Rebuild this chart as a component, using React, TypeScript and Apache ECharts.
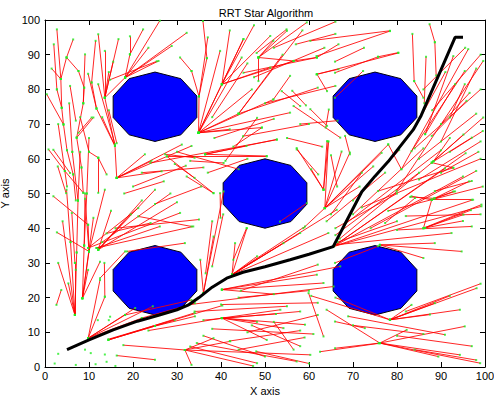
import React, { useEffect, useRef } from "react";
import * as echarts from "echarts";

const xTicks = [0, 10, 20, 30, 40, 50, 60, 70, 80, 90, 100];
const yTicks = [0, 10, 20, 30, 40, 50, 60, 70, 80, 90, 100];

// obstacles: [centerX, centerY, radius]
const obstacles = [
  [25, 75, 10],
  [75, 75, 10],
  [50, 50, 10],
  [25, 25, 10],
  [75, 25, 10],
];

// final RRT* path
const pathPoints = [
  [5, 5], [10, 7.8], [15.5, 10.7], [21, 13.2], [26, 15], [30, 16.5], [32.5, 17.8],
  [35, 20], [38, 23], [41.3, 25.6], [45, 27.3], [50, 28.9], [55.7, 30.9], [60, 32.5],
  [65.5, 34.7], [68.5, 42], [72, 50.5], [75, 55], [78, 59.2], [83.7, 68.4], [85.5, 72.5],
  [93.2, 95], [95, 95],
];

// tree edges [x1, y1, x2, y2]
const edgesTopLeft = [
  [2.7, 97.3, 3.6, 83.0], [3.6, 83.0, 3.8, 74.7], [3.8, 74.7, 4.2, 69.9], [0.4, 78.6, 4.2, 69.9],
  [4.2, 69.9, 5.0, 62.5], [5.0, 62.5, 6.4, 55.5], [6.4, 55.5, 7.0, 48.0], [6.4, 94.4, 4.9, 89.2],
  [4.9, 89.2, 3.6, 83.0], [4.9, 89.2, 7.6, 85.3], [7.6, 85.3, 8.9, 80.5], [8.9, 80.5, 8.7, 76.0],
  [9.1, 90.1, 8.7, 76.0], [8.7, 76.0, 7.2, 66.1], [12.1, 95.9, 13.6, 77.6], [13.6, 91.1, 13.6, 77.6],
  [16.7, 94.5, 13.6, 77.6], [18.2, 83.4, 13.6, 77.6], [19.3, 90.1, 18.2, 83.4], [22.3, 97.3, 19.3, 90.1],
  [26.1, 99.8, 18.2, 83.4], [19.3, 95.3, 19.3, 90.1], [23.5, 92.0, 18.2, 83.4], [28.8, 92.5, 18.2, 83.4],
  [25.8, 88.2, 18.2, 83.4], [32.2, 96.3, 18.2, 83.4], [13.6, 77.6, 15.9, 63.7], [11.7, 74.5, 15.9, 63.7],
  [9.8, 84.5, 11.7, 74.5], [11.0, 71.9, 7.2, 66.1], [7.2, 66.1, 8.3, 57.5], [0.8, 62.7, 4.5, 56.5],
  [4.5, 56.5, 8.7, 50.2], [8.3, 57.5, 8.7, 50.2], [12.1, 60.3, 12.1, 50.2], [15.9, 63.7, 16.3, 54.5],
  [16.3, 54.5, 22.7, 61.3], [16.3, 54.5, 24.2, 59.4], [16.3, 54.5, 33.3, 63.7], [16.3, 54.5, 31.1, 64.1],
  [16.3, 54.5, 26.5, 56.4], [30.7, 89.2, 33.3, 85.3], [33.3, 85.3, 35.0, 78.0], [27.3, 61.3, 34.0, 60.3],
  [29.5, 58.5, 34.0, 54.5], [1.9, 62.6, 5.7, 55.9], [2.9, 57.8, 4.8, 50.1], [27.7, 60.7, 38.3, 50.1],
  [27.7, 60.7, 50.4, 60.7], [23.9, 58.8, 52.7, 65.5], [32.2, 54.9, 38.3, 50.1], [5.7, 81.0, 7.0, 71.0],
  [14.8, 82.8, 25.4, 88.1], [12.1, 81.5, 15.9, 64.2], [10.6, 71.9, 7.6, 67.5],
  [3.0, 70.0, 5.0, 52.0], [8.0, 62.0, 7.5, 48.0], [10.0, 66.0, 9.5, 50.0], [5.5, 76.0, 6.2, 62.0],
  [6.2, 62.0, 7.5, 48.0], [1.5, 86.0, 3.6, 83.0], [11.5, 94.0, 10.6, 82.0], [10.6, 82.0, 11.7, 74.5],
  [14.5, 85.0, 13.6, 77.6], [15.5, 88.0, 13.6, 77.6], [2.0, 93.0, 2.7, 80.0], [2.7, 80.0, 3.8, 74.7],
  [13.0, 72.0, 15.9, 63.7], [14.5, 74.0, 16.3, 64.5], [10.0, 62.0, 12.1, 60.3], [12.1, 60.3, 14.0, 55.5],
  [8.0, 72.0, 10.0, 62.0],
];

const edgesBottomLeft = [
  [4.9, 51.1, 5.8, 36.0], [5.8, 36.0, 6.8, 15.0], [6.1, 44.4, 6.8, 30.0], [6.8, 30.0, 6.8, 15.0],
  [5.3, 24.1, 6.8, 15.0], [7.2, 33.0, 6.8, 15.0], [9.1, 50.0, 8.9, 35.0], [8.9, 35.0, 8.5, 19.8],
  [10.0, 33.3, 8.5, 19.8], [12.5, 30.3, 8.5, 19.8], [9.8, 28.0, 8.5, 19.8], [13.6, 51.1, 10.0, 33.3],
  [9.1, 48.5, 10.0, 33.3], [2.7, 38.8, 10.0, 33.3], [1.9, 49.2, 9.8, 41.0], [9.8, 41.0, 10.0, 33.3],
  [2.6, 17.9, 3.7, 22.2], [13.5, 30.0, 13.6, 20.3], [12.5, 25.1, 9.8, 8.3], [13.6, 20.2, 9.8, 8.3],
  [12.5, 25.6, 18.2, 33.3], [18.6, 33.3, 31.8, 35.7], [9.8, 34.3, 21.2, 45.8], [9.8, 34.3, 30.7, 44.4],
  [11.7, 34.3, 26.1, 40.5], [11.7, 34.3, 33.7, 40.5], [12.1, 33.8, 25.0, 51.1], [12.1, 33.8, 19.5, 44.0],
  [21.2, 43.4, 33.3, 40.5], [9.8, 8.3, 18.2, 15.0], [9.8, 8.3, 20.5, 17.0], [9.8, 8.3, 24.5, 17.5],
  [9.8, 8.3, 22.0, 14.1], [14.4, 8.0, 40.3, 17.7], [14.4, 7.8, 29.5, 13.5], [14.4, 7.8, 34.0, 15.6],
  [14.4, 7.8, 25.0, 11.8], [16.3, 3.3, 25.0, 2.1], [17.8, 6.3, 31.8, 4.9], [18.2, 15.0, 33.3, 19.3],
  [22.0, 14.1, 34.1, 18.4], [25.0, 11.8, 34.1, 14.6], [23.5, 10.5, 40.2, 14.1],
  [4.0, 42.0, 6.8, 15.0], [3.0, 30.0, 6.8, 15.0], [11.0, 43.0, 8.5, 19.8], [15.0, 45.0, 12.1, 33.8],
  [7.5, 48.0, 7.2, 33.0], [9.5, 50.0, 8.9, 35.0],
  [12.1, 33.8, 22.0, 48.0], [12.1, 33.8, 30.0, 47.5], [13.0, 36.0, 28.5, 50.0], [16.0, 40.0, 35.0, 42.5],
  [14.0, 38.5, 24.0, 41.5], [20.0, 52.0, 32.0, 58.0], [22.0, 56.0, 36.0, 57.5], [18.0, 50.0, 27.0, 53.5],
  [25.0, 47.0, 35.5, 52.0],
];

const edgesTopMiddle = [
  [35.9, 99.7, 36.8, 89.0], [36.8, 89.0, 35.0, 78.0], [35.0, 78.0, 34.9, 67.5], [34.9, 67.5, 39.8, 91.1],
  [34.9, 67.5, 45.1, 94.5], [34.9, 67.5, 44.7, 89.2], [34.9, 67.5, 51.9, 77.1], [34.9, 67.5, 55.7, 73.3],
  [34.9, 67.5, 49.3, 69.0], [34.9, 67.5, 42.0, 68.5], [34.9, 67.5, 40.2, 81.5], [34.9, 67.5, 47.0, 80.0],
  [40.2, 81.5, 45.1, 94.5], [40.2, 81.5, 51.2, 95.4], [40.2, 81.5, 56.5, 88.2], [40.2, 81.5, 51.2, 86.3],
  [48.5, 89.2, 51.9, 94.0], [48.5, 89.2, 55.0, 96.9], [48.5, 89.2, 56.5, 88.2], [56.5, 88.2, 61.8, 89.2],
  [61.8, 89.2, 66.7, 93.0], [45.1, 84.8, 61.8, 89.2], [48.5, 89.2, 48.5, 82.4], [61.8, 84.4, 66.7, 85.8],
  [59.5, 99.3, 48.5, 89.2], [54.9, 97.3, 48.1, 90.5], [56.2, 79.6, 59.3, 75.4], [56.5, 75.2, 67.1, 66.1],
  [61.8, 84.4, 64.1, 79.5], [64.5, 74.2, 63.8, 69.0], [36.4, 61.3, 45.8, 63.7], [36.4, 61.3, 52.7, 65.6],
  [36.4, 61.3, 50.4, 60.8], [33.0, 59.4, 40.6, 58.8], [41.0, 59.4, 48.2, 71.8], [42.8, 63.5, 49.3, 69.0],
  [57.2, 62.7, 62.1, 55.5], [64.1, 65.1, 63.3, 51.1], [65.0, 61.0, 66.4, 52.0], [60.3, 94.0, 78.4, 96.9],
  [61.7, 89.6, 78.4, 96.8], [61.7, 84.3, 80.3, 90.5], [51.9, 77.1, 55.7, 83.9], [53.8, 79.5, 58.0, 75.2],
  [60.3, 74.3, 64.1, 69.5],
  [37.0, 95.0, 35.0, 78.0], [42.0, 97.0, 40.2, 81.5], [40.2, 81.5, 47.5, 98.5], [44.0, 73.0, 58.5, 97.0],
  [44.0, 73.0, 54.0, 90.0], [34.9, 67.5, 44.0, 73.0], [44.0, 73.0, 62.0, 80.5], [50.0, 76.0, 66.0, 81.0],
  [47.5, 83.5, 63.5, 92.0], [52.0, 92.0, 66.0, 99.5], [57.0, 93.0, 66.0, 96.0], [38.0, 72.0, 46.0, 87.5],
  [38.5, 66.0, 52.0, 71.5], [45.0, 66.5, 60.0, 70.0], [55.0, 66.0, 63.0, 63.5], [58.0, 70.0, 66.5, 71.0],
  [30.0, 62.0, 44.0, 57.0], [37.0, 56.0, 46.0, 60.0],
];

const edgesCenter = [
  [39.8, 50.1, 39.9, 43.0], [45.8, 40.0, 42.8, 30.9], [58.7, 40.0, 63.6, 45.8], [63.6, 45.8, 64.4, 65.0],
  [63.6, 45.8, 67.4, 62.1], [63.6, 45.8, 69.3, 61.8], [63.6, 45.8, 78.0, 64.1], [63.6, 45.8, 76.5, 61.7],
  [63.6, 45.8, 74.6, 57.8], [63.3, 51.1, 57.2, 63.1], [63.3, 51.1, 64.4, 65.0], [63.3, 51.1, 60.5, 57.0],
  [63.6, 45.8, 71.5, 52.0], [53.4, 41.9, 59.5, 47.2],
];

const edgesBottomMiddle = [
  [36.0, 21.3, 40.6, 50.6], [36.0, 21.3, 38.3, 37.6], [35.3, 30.9, 36.0, 21.3], [42.5, 26.6, 45.9, 40.0],
  [42.5, 26.6, 43.2, 35.7], [42.5, 26.6, 48.2, 31.9], [42.5, 26.6, 54.2, 35.7], [42.5, 26.6, 58.0, 38.6],
  [42.5, 26.6, 59.1, 40.5], [42.5, 26.6, 66.3, 45.3], [42.5, 26.6, 64.4, 38.6], [40.2, 22.3, 61.8, 26.6],
  [40.2, 22.3, 67.1, 29.0], [40.2, 22.3, 63.3, 24.2], [40.2, 22.3, 52.0, 21.0], [33.0, 18.0, 65.6, 23.2],
  [40.2, 14.1, 53.5, 16.5], [40.2, 14.1, 59.1, 12.2], [40.2, 14.1, 54.2, 11.2], [40.2, 14.1, 50.4, 7.8],
  [40.2, 14.1, 48.2, 13.0], [40.2, 14.1, 52.5, 15.3], [59.9, 21.3, 63.3, 8.8], [33.0, 5.9, 48.2, 1.1],
  [34.5, 6.9, 57.2, 1.6], [31.8, 4.9, 38.3, 8.3], [31.8, 4.9, 47.3, 0.3], [31.8, 4.9, 33.3, 0.6],
  [31.8, 4.9, 42.1, 7.4], [31.8, 4.9, 60.3, 3.5], [42.0, 7.5, 58.0, 10.5], [44.0, 5.0, 59.0, 8.5],
  [47.0, 12.0, 58.0, 6.0],
  [34.0, 16.0, 55.0, 17.5], [36.0, 13.5, 58.0, 16.0], [38.0, 11.0, 61.0, 9.5], [40.0, 18.0, 62.0, 18.5],
  [44.0, 20.0, 60.0, 22.0], [46.0, 10.0, 62.0, 15.0], [48.0, 4.5, 60.0, 1.0], [36.0, 9.0, 50.0, 3.0],
  [52.0, 13.0, 56.5, 5.0], [44.5, 22.0, 62.0, 29.5], [38.0, 29.0, 40.5, 44.0], [36.5, 27.0, 38.0, 42.0],
];

const edgesRight = [
  [65.5, 34.7, 95.0, 54.9], [65.5, 34.7, 99.2, 46.3], [65.5, 34.7, 97.3, 48.2], [65.5, 34.7, 90.9, 57.2],
  [65.5, 34.7, 95.6, 61.6], [67.0, 37.0, 88.3, 59.3], [88.3, 59.3, 95.1, 67.0], [88.3, 59.3, 92.0, 66.0],
  [88.5, 48.6, 93.2, 50.6], [88.5, 48.6, 96.4, 53.5], [83.0, 49.0, 88.5, 48.6], [86.4, 40.1, 95.0, 42.1],
  [86.4, 40.1, 96.8, 45.2], [83.3, 49.2, 87.9, 48.2], [87.9, 48.2, 92.8, 50.6], [87.9, 48.2, 97.0, 48.2],
  [87.9, 48.2, 86.0, 40.0], [86.0, 40.0, 95.1, 43.9], [86.0, 40.0, 99.2, 46.8], [77.3, 41.5, 84.1, 48.7],
  [65.9, 35.2, 92.4, 38.6], [76.1, 35.2, 88.6, 35.7], [76.1, 35.2, 94.7, 33.3], [76.1, 35.2, 86.0, 31.4],
  [65.9, 30.0, 75.7, 34.8], [66.5, 36.0, 80.0, 42.0], [64.0, 42.0, 77.3, 56.0], [65.0, 44.0, 72.0, 56.0],
  [66.0, 40.0, 80.0, 50.0],
  [66.0, 38.0, 85.0, 56.0], [68.0, 41.0, 90.0, 62.5], [70.0, 44.0, 86.0, 63.0], [72.0, 46.0, 99.0, 60.0],
  [74.0, 40.0, 98.0, 56.5], [78.0, 45.0, 99.5, 52.0], [80.0, 39.5, 97.0, 40.5], [82.0, 43.5, 99.0, 44.0],
  [85.0, 54.0, 99.0, 65.0], [90.0, 56.0, 98.5, 62.0], [70.0, 48.0, 80.5, 62.5],
];

const edgesTopRight = [
  [65.9, 84.8, 75.7, 89.4], [75.7, 89.4, 80.3, 90.6], [65.9, 88.0, 72.5, 92.0], [65.9, 77.6, 72.3, 85.3],
  [87.4, 98.8, 88.6, 93.6], [88.6, 93.6, 88.9, 84.0], [83.5, 96.0, 83.9, 82.4], [83.9, 82.4, 86.0, 77.6],
  [86.6, 89.4, 86.2, 76.0], [79.9, 50.7, 99.6, 88.2], [81.0, 57.0, 96.2, 91.6], [83.3, 62.2, 95.4, 85.3],
  [86.4, 67.1, 92.8, 89.6], [86.4, 67.1, 93.2, 81.5], [87.9, 66.6, 95.8, 76.7], [87.9, 58.9, 99.6, 71.9],
  [87.9, 58.9, 97.0, 66.1], [87.9, 58.9, 92.8, 57.4], [75.7, 50.7, 92.8, 57.4], [88.6, 50.7, 97.0, 53.6],
  [68.2, 66.6, 69.3, 61.3], [95.4, 81.5, 92.0, 71.9], [78.0, 64.2, 81.0, 57.0], [84.0, 63.0, 99.0, 80.0],
  [85.0, 60.0, 98.0, 73.0], [90.0, 70.0, 96.5, 79.0], [84.5, 70.0, 91.0, 85.0],
  [88.0, 74.0, 99.0, 90.0], [86.0, 80.0, 95.5, 92.0], [90.0, 65.0, 98.0, 86.0], [92.0, 62.0, 99.5, 68.0],
];

const edgesBottomRight = [
  [78.4, 13.6, 98.1, 22.7], [78.4, 13.6, 88.6, 18.4], [78.4, 13.6, 94.3, 16.5], [78.4, 13.6, 87.5, 15.1],
  [78.4, 13.6, 83.3, 17.9], [78.4, 13.6, 92.0, 20.5], [68.9, 14.6, 90.9, 9.3], [65.9, 13.1, 72.7, 11.2],
  [76.1, 6.9, 94.3, 3.5], [76.1, 6.9, 98.9, 1.1], [76.1, 6.9, 89.4, 3.0], [76.1, 6.9, 82.2, 10.7],
  [76.1, 6.9, 95.4, 11.7], [65.9, 5.4, 76.1, 6.9], [60.5, 20.5, 78.4, 13.6], [62.5, 4.4, 75.8, 6.8],
  [66.0, 20.0, 78.4, 13.6], [64.0, 16.5, 76.1, 6.9], [80.0, 9.0, 97.0, 6.0], [82.0, 16.0, 99.0, 24.0],
  [84.0, 5.0, 98.0, 2.0], [70.0, 12.0, 86.0, 9.5],
];

// isolated sample nodes
const looseNodes = [
  [2.2, 1.0], [3.0, 3.8], [9.1, 5.0], [10.4, 4.0], [13.6, 3.6], [11.5, 0.8], [14, 1.5],
  [7, 0.6], [16, 0.3], [14.5, 13.5], [14.8, 14.5], [7.0, 28], [12.0, 13.5],
];

const allEdges = [
  ...edgesTopLeft, ...edgesBottomLeft, ...edgesTopMiddle, ...edgesCenter,
  ...edgesBottomMiddle, ...edgesRight, ...edgesTopRight, ...edgesBottomRight,
];

const FONT = "'Liberation Sans', Arial, sans-serif";

export default function App() {
  const ref = useRef<HTMLDivElement>(null);
  useEffect(() => {
    if (!ref.current) return;
    document.body.style.margin = "0";
    const chart = echarts.init(ref.current, null, { renderer: "svg" });

    const nodes: number[][] = [];
    allEdges.forEach((e) => {
      nodes.push([e[2], e[3]]);
      nodes.push([e[0], e[1]]);
    });
    looseNodes.forEach((n) => nodes.push(n));

    const axisCommon = {
      type: "value",
      min: 0,
      max: 100,
      interval: 10,
      splitLine: { show: false },
      axisLine: { show: true, onZero: false, lineStyle: { color: "#000", width: 1 } },
      axisTick: { show: true, inside: true, length: 5, lineStyle: { color: "#000" } },
    };

    chart.setOption({
      animation: false,
      backgroundColor: "#fff",
      title: {
        text: "RRT Star Algorithm",
        left: 261,
        top: 2,
        textAlign: "center",
        textStyle: { fontSize: 11, fontWeight: "normal", color: "#000", fontFamily: FONT },
      },
      grid: {
        left: 45, top: 20, width: 440, height: 347,
        containLabel: false, outerBoundsMode: "none",
      },
      xAxis: [
        {
          ...axisCommon,
          position: "bottom",
          name: "X axis",
          nameLocation: "middle",
          nameGap: 18,
          nameTextStyle: { fontSize: 11, color: "#000", fontFamily: FONT },
          axisLabel: {
            fontSize: 11, color: "#000", fontFamily: FONT, margin: 3,
            formatter: (v: number) => (xTicks.includes(v) ? String(v) : ""),
          },
        },
        { ...axisCommon, position: "top", axisLabel: { show: false } },
      ],
      yAxis: [
        {
          ...axisCommon,
          position: "left",
          name: "Y axis",
          nameLocation: "middle",
          nameGap: 28,
          nameRotate: 90,
          nameTextStyle: { fontSize: 11, color: "#000", fontFamily: FONT },
          axisLabel: {
            fontSize: 11, color: "#000", fontFamily: FONT, margin: 5,
            formatter: (v: number) => (yTicks.includes(v) ? String(v) : ""),
          },
        },
        { ...axisCommon, position: "right", axisLabel: { show: false } },
      ],
      series: [
        {
          type: "custom",
          z: 1,
          silent: true,
          data: obstacles,
          renderItem: (params: any, api: any) => {
            const cx = api.value(0);
            const cy = api.value(1);
            const r = api.value(2);
            const pts: number[][] = [];
            for (let k = 0; k < 10; k++) {
              const a = ((90 + 36 * k) * Math.PI) / 180;
              pts.push(api.coord([cx + r * Math.cos(a), cy + r * Math.sin(a)]));
            }
            return {
              type: "polygon",
              shape: { points: pts },
              style: { fill: "#0000ff", stroke: "#000010", lineWidth: 1 },
            };
          },
        },
        {
          type: "lines",
          coordinateSystem: "cartesian2d",
          z: 2,
          silent: true,
          data: allEdges.map((e) => ({ coords: [[e[0], e[1]], [e[2], e[3]]] })),
          lineStyle: { color: "#ff0000", width: 1, opacity: 0.85 },
        },
        {
          type: "scatter",
          z: 3,
          silent: true,
          symbol: "rect",
          symbolSize: 2,
          itemStyle: { color: "#22ee22" },
          data: nodes,
        },
        {
          type: "line",
          z: 4,
          silent: true,
          showSymbol: false,
          data: pathPoints,
          lineStyle: { color: "#000", width: 3 },
        },
      ],
    });
    return () => chart.dispose();
  }, []);
  return (
    <div
      ref={ref}
      style={{ position: "absolute", left: 0, top: 0, width: 494, height: 402, background: "#fff" }}
    />
  );
}
